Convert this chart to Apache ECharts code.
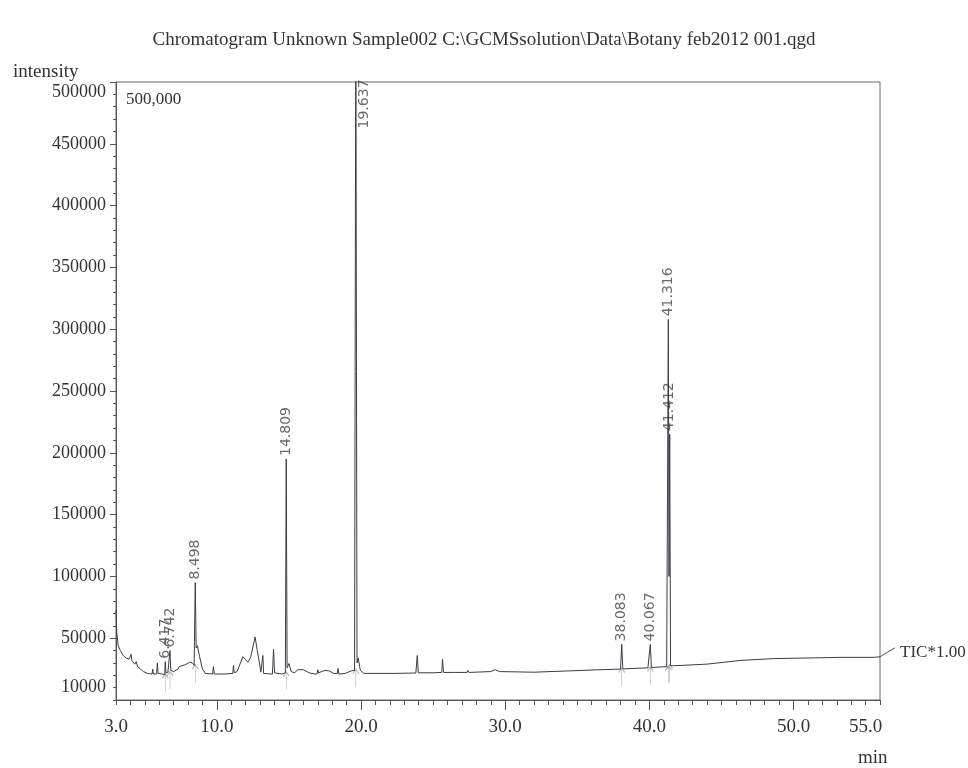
<!DOCTYPE html>
<html>
<head>
<meta charset="utf-8">
<script src="https://cdn.jsdelivr.net/npm/echarts@6/dist/echarts.min.js"></script>
<style>html,body{margin:0;padding:0;background:#fff;}#c{width:968px;height:768px;}</style>
</head>
<body>
<div id="c"></div>
<script>
// ---- data (retention time in min, intensity) ----
const traceTime = [
  3.0, 3.05, 3.15, 3.3, 3.5, 3.7, 3.9, 4.05, 4.1, 4.3,
  4.4, 4.5, 4.7, 4.9, 5.2, 5.5, 5.55, 5.6, 5.82, 5.87,
  5.92, 6.2, 6.38, 6.417, 6.46, 6.6, 6.742, 6.8, 7.0, 7.3,
  7.38, 7.45, 7.8, 8.1, 8.3, 8.42, 8.498, 8.56, 8.65, 8.8,
  9.0, 9.2, 9.7, 9.76, 9.82, 10.5, 11.1, 11.15, 11.2, 11.4,
  11.8, 11.95, 12.15, 12.35, 12.65, 12.8, 12.95, 13.05, 13.14, 13.19,
  13.24, 13.85, 13.93, 14.0, 14.5, 14.75, 14.809, 14.87, 15.0, 15.15,
  15.4, 15.6, 16.0, 16.4, 16.8, 16.95, 17.0, 17.05, 17.5, 17.8,
  18.1, 18.36, 18.4, 18.46, 18.9, 19.3, 19.55, 19.637, 19.72, 19.8,
  19.95, 20.2, 22.0, 23.8, 23.9, 23.97, 25.0, 25.6, 25.65, 25.72,
  26.5, 27.35, 27.4, 27.48, 29.0, 29.3, 29.6, 32.0, 34.3, 36.6,
  38.0, 38.083, 38.16, 39.9, 40.067, 40.14, 41.2, 41.316, 41.364, 41.412,
  41.47, 41.7, 44.0, 46.3, 48.6, 51.0, 53.3, 55.6, 56.0
];
const traceIntensity = [
  73000, 55000, 44000, 40000, 36000, 34000, 33000, 37000, 32000, 29000,
  31000, 27000, 25000, 23000, 21500, 21000, 25000, 21000, 21000, 30000,
  21500, 21000, 20500, 31000, 22000, 22500, 40000, 24000, 23000, 25000,
  27000, 25500, 28500, 30500, 30000, 28000, 95000, 42000, 44000, 35000,
  25000, 21500, 21000, 27000, 21000, 21000, 21500, 28000, 22000, 23000,
  35000, 33000, 30500, 35000, 51000, 40000, 30000, 22500, 21500, 36000,
  21500, 21000, 41000, 22000, 21000, 22000, 195000, 26000, 29500, 23000,
  22000, 24500, 24500, 22000, 21000, 21000, 24500, 22000, 24000, 23500,
  21500, 21500, 25500, 21000, 21500, 23500, 24000, 560000, 30000, 34000,
  24000, 21500, 21500, 21800, 36000, 22000, 22000, 22300, 33000, 22300,
  22300, 22300, 24000, 22300, 23000, 24500, 23000, 22500, 23500, 24500,
  25000, 45000, 25200, 26000, 45000, 26300, 27000, 308000, 100000, 215000,
  28000, 27700, 29000, 32000, 33500, 34000, 34500, 34500, 35000
];
const peakTimes  = [6.417, 6.742, 8.498, 14.809, 19.637, 38.083, 40.067, 41.316, 41.412];
const peakLabels = ['6.417', '6.742', '8.498', '14.809', '19.637', '38.083', '40.067', '41.316', '41.412'];
const xTickLabels = [3, 10, 20, 30, 40, 50, 55];
const xMajorTicks = [10, 20, 30, 40, 50];
const yTickLabels = [10000, 50000, 100000, 150000, 200000, 250000, 300000, 350000, 400000, 450000, 500000];
const titleText = 'Chromatogram Unknown Sample002 C:\\GCMSsolution\\Data\\Botany feb2012 001.qgd';
const traceName = 'TIC*1.00';

const X_MIN = 3, X_MAX = 56, Y_MIN = 0, Y_MAX = 500000;
const xMinorTicks = [];
for (let v = X_MIN; v <= X_MAX; v += 1) xMinorTicks.push(v);
const yMinorTicks = [];
for (let v = Y_MIN; v <= Y_MAX; v += 10000) yMinorTicks.push(v);
const yMajorTicks = [];
for (let v = 50000; v <= Y_MAX; v += 50000) yMajorTicks.push(v);

const serif = 'Liberation Serif';
const ink = '#3a3d44';
const lineData = traceTime.map((t, i) => [t, traceIntensity[i]]);
const labelCap = 460000;
const peakData = peakTimes.map((t, i) => {
  const h = traceIntensity[traceTime.indexOf(t)];
  const item = { value: [t, Math.min(h, labelCap)], name: peakLabels[i] };
  if (h > Y_MAX) item.label = { offset: [0, 9] };
  return item;
});
// integration markers just below the baseline at each peak
const markerData = peakTimes.map(t => {
  const idx = traceTime.indexOf(t);
  const base = Math.min(traceIntensity[idx - 1], traceIntensity[idx + 1]);
  return [t, base];
});

const chart = echarts.init(document.getElementById('c'), null, { renderer: 'canvas' });
chart.setOption({
  animation: false,
  backgroundColor: '#ffffff',
  title: [
    { text: titleText, left: 'center', top: 26, textStyle: { fontFamily: serif, fontSize: 19, fontWeight: 'normal', color: '#333' } },
    { text: 'intensity', left: 8, top: 58, textStyle: { fontFamily: serif, fontSize: 19, fontWeight: 'normal', color: '#333' } },
    { text: '500,000', left: 121, top: 86, textStyle: { fontFamily: serif, fontSize: 17, fontWeight: 'normal', color: '#333' } },
    { text: 'min', left: 853, top: 744, textStyle: { fontFamily: serif, fontSize: 19, fontWeight: 'normal', color: '#333' } }
  ],
  grid: { left: 116, right: 88, top: 82, bottom: 68, show: true, borderColor: '#666', borderWidth: 1, backgroundColor: 'transparent' },
  xAxis: [
    {
      type: 'value', min: X_MIN, max: X_MAX,
      axisLine: { show: true, lineStyle: { color: '#555', width: 1 } },
      axisTick: { show: true, length: 5, customValues: xMinorTicks, lineStyle: { color: '#555' } },
      axisLabel: { customValues: xTickLabels, formatter: v => Number(v).toFixed(1), fontFamily: serif, fontSize: 19, color: '#333', margin: 18 },
      splitLine: { show: false }
    },
    {
      type: 'value', min: X_MIN, max: X_MAX, position: 'bottom',
      axisLine: { show: false },
      axisTick: { show: true, length: 10, customValues: xMajorTicks, lineStyle: { color: '#555' } },
      axisLabel: { show: false }, splitLine: { show: false }
    }
  ],
  yAxis: [
    {
      type: 'value', min: Y_MIN, max: Y_MAX,
      axisLine: { show: true, lineStyle: { color: '#555', width: 1 } },
      axisTick: { show: true, length: 3, customValues: yMinorTicks, lineStyle: { color: '#555' } },
      axisLabel: {
        customValues: yTickLabels,
        formatter: v => (v === Y_MAX ? '{top|' + Math.round(v) + '}' : String(Math.round(v))),
        rich: { top: { padding: [20, 0, 0, 0], fontFamily: serif, fontSize: 18, color: '#333' } },
        fontFamily: serif, fontSize: 18, color: '#333', margin: 10
      },
      splitLine: { show: false }
    },
    {
      type: 'value', min: Y_MIN, max: Y_MAX, position: 'left',
      axisLine: { show: false },
      axisTick: { show: true, length: 6, customValues: yMajorTicks, lineStyle: { color: '#555' } },
      axisLabel: { show: false }, splitLine: { show: false }
    }
  ],
  series: [
    {
      type: 'scatter', data: markerData,
      symbol: 'path://M0,5 L3,0 L6,5 M3,0 L3,20', symbolSize: [6, 18], symbolOffset: [0, 8],
      itemStyle: { color: 'none', borderColor: '#9a9da4', borderWidth: 1 }, silent: true, z: 1
    },
    {
      type: 'line', data: lineData, symbol: 'none', clip: true, z: 3,
      lineStyle: { color: ink, width: 1 },
      endLabel: { show: true, formatter: traceName, offset: [12, -4], fontFamily: serif, fontSize: 17, color: '#333' }
    },
    {
      type: 'scatter', data: peakData, symbolSize: 0, clip: false,
      label: {
        show: true, position: 'top', rotate: 90, align: 'left', verticalAlign: 'middle', distance: 3,
        formatter: p => p.name, fontFamily: 'DejaVu Sans', fontSize: 14, color: '#444'
      }
    }
  ]
});

// small leader from the trace end to the TIC label
const endPt = chart.convertToPixel({ xAxisIndex: 0, yAxisIndex: 0 }, lineData[lineData.length - 1]);
chart.setOption({
  graphic: [{
    type: 'line', silent: true,
    shape: { x1: endPt[0], y1: endPt[1], x2: endPt[0] + 15, y2: endPt[1] - 9 },
    style: { stroke: '#555', lineWidth: 1 }
  }]
});
</script>
</body>
</html>
